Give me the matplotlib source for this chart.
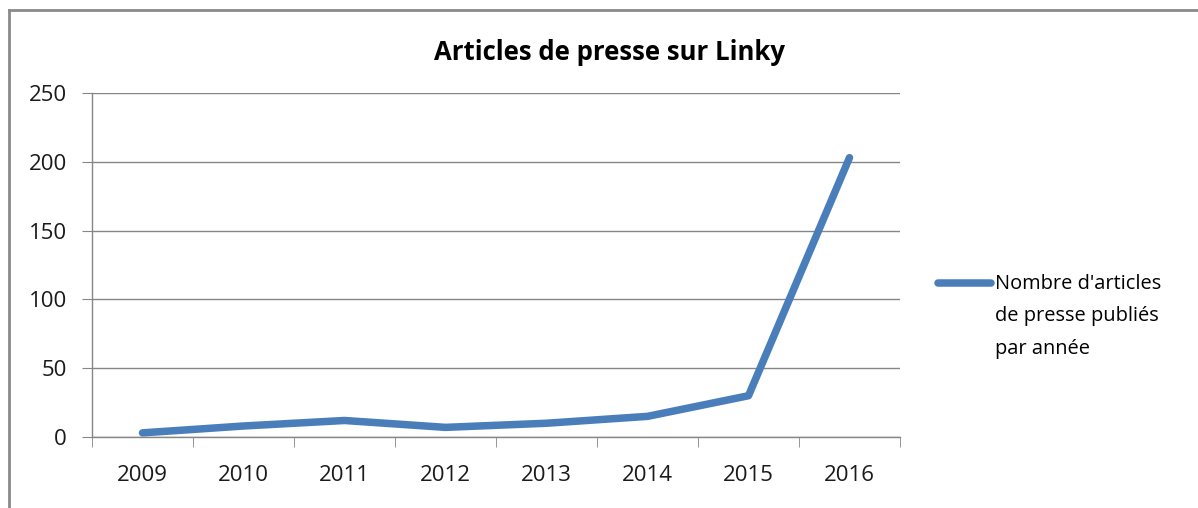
import matplotlib
matplotlib.use("Agg")
import matplotlib.pyplot as plt
from matplotlib.lines import Line2D
import numpy as np

years = ["2009", "2010", "2011", "2012", "2013", "2014", "2015", "2016"]
articles = [3, 8, 12, 7, 10, 15, 30, 203]
yticks = [0, 50, 100, 150, 200, 250]
title = "Articles de presse sur Linky"
series_label = "Nombre d'articles\nde presse publiés\npar année"

plt.rcParams['font.family'] = ['Open Sans', 'DejaVu Sans']
W, H = 1198, 508
fig = plt.figure(figsize=(W/100, H/100), dpi=100)
ax = fig.add_axes([92/W, 1-437/H, (900-92)/W, (437-93)/H])

x = np.arange(len(years))
blue = "#4A7EBB"
ax.plot(x, articles, color=blue, lw=5.4, solid_capstyle='round', solid_joinstyle='round')

ax.set_xlim(-0.5, len(years)-0.5)
ax.set_ylim(0, 250)
ax.set_yticks(yticks)
ax.set_yticklabels([str(v) for v in yticks], fontsize=16)
ax.set_xticks(x)
ax.set_xticklabels(years, fontsize=16)
ax.set_xticks(np.arange(len(years)+1)-0.5, minor=True)
ax.tick_params(axis='x', which='major', length=0, pad=20, colors='#1a1a1a')
ax.tick_params(axis='x', which='minor', length=7, color='#868686', direction='out')
ax.tick_params(axis='y', length=7, color='#868686', pad=11, colors='#1a1a1a')
ax.yaxis.grid(True, color='#868686', lw=1.0)
ax.set_axisbelow(True)
for s in ['top', 'right']:
    ax.spines[s].set_visible(False)
for s in ['left', 'bottom']:
    ax.spines[s].set_color('#868686')
    ax.spines[s].set_linewidth(1.0)

fig.text(609/W, 1-53/H, title, ha='center', va='center', fontsize=18.5, fontweight='bold', color='#000000')

# legend
fig.add_artist(Line2D([938/W, 991/W], [1-283/H, 1-283/H], color=blue, lw=5.4, solid_capstyle='round'))
fig.text(995/W, 1-274/H, series_label, ha='left', va='top', fontsize=14.4, color='#000000', linespacing=1.83)

# outer border (top and left only visible)
fig.add_artist(Line2D([9/W, 9/W], [0, 1-10/H], color='#8a8a8a', lw=2))
fig.add_artist(Line2D([9/W, 1], [1-10/H, 1-10/H], color='#8a8a8a', lw=2))

fig.savefig("out.png", dpi=100)
